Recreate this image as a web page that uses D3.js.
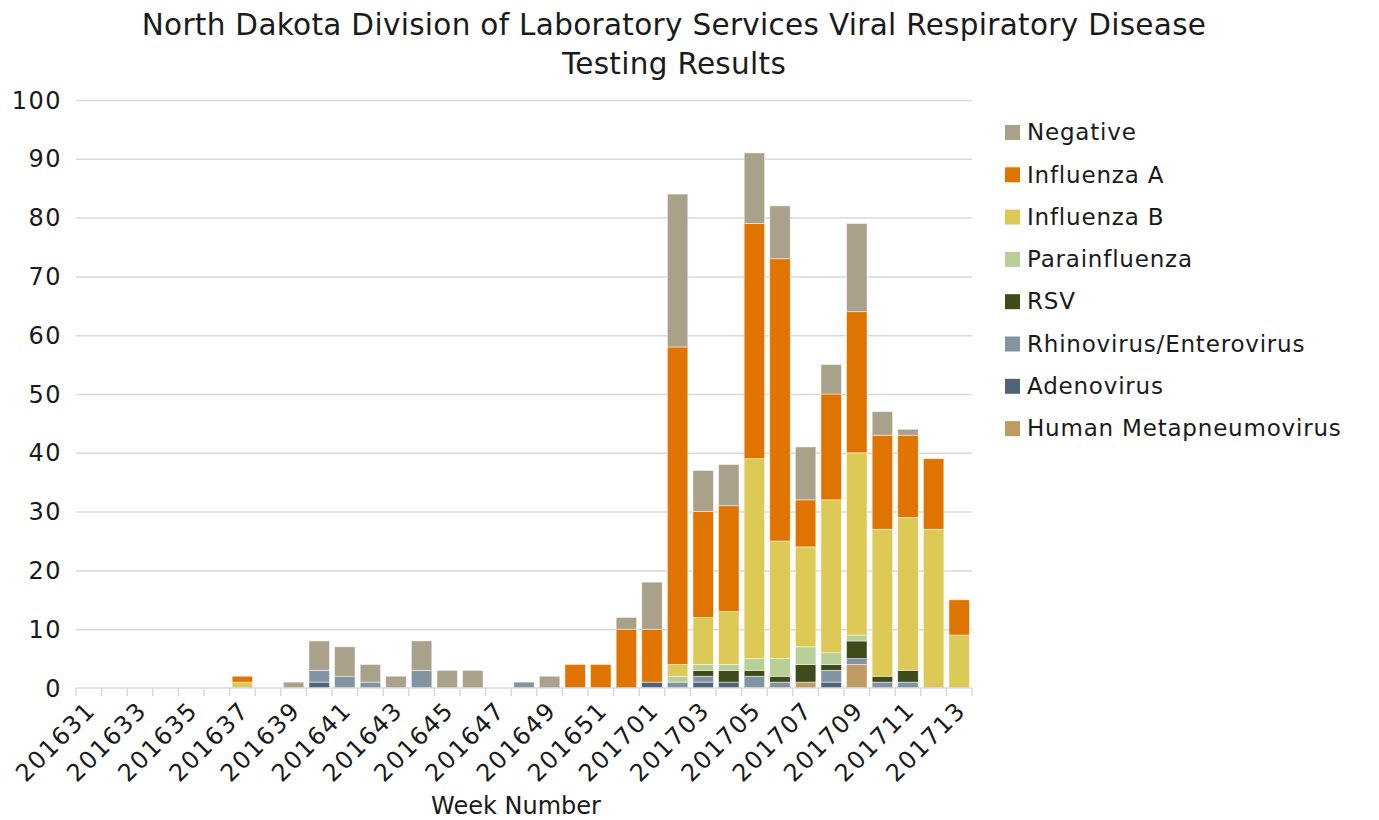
<!DOCTYPE html>
<html>
<head>
<meta charset="utf-8">
<script src="https://cdn.jsdelivr.net/npm/d3@7"></script>
<style>
  body { margin: 0; background: #fff; }
  svg text { font-family: 'DejaVu Sans', 'Noto Sans', sans-serif; fill: #1a1a1a; }
  .grid line { stroke: #d9d9d9; stroke-width: 1.5; }
  .grid path { display: none; }
</style>
</head>
<body>
<svg width="1379" height="820"></svg>
<script>
// week numbers
const weeks = [
  '201631','201632','201633','201634','201635','201636','201637','201638','201639','201640',
  '201641','201642','201643','201644','201645','201646','201647','201648','201649','201650',
  '201651','201652','201701','201702','201703','201704','201705','201706','201707','201708',
  '201709','201710','201711','201712','201713'
];

// series, bottom of stack first
const seriesNames = ['Human Metapneumovirus', 'Adenovirus', 'Rhinovirus/Enterovirus', 'RSV',
  'Parainfluenza', 'Influenza B', 'Influenza A', 'Negative'];
const seriesColors = ['#bf9b63', '#4f6478', '#8294a4', '#3d4c1a',
  '#b8cf96', '#ddc955', '#e07400', '#a9a18a'];

const hmpv     = [0,0,0,0,0,0,0,0,0,0, 0,0,0,0,0,0,0,0,0,0, 0,0,0,0,0,0,0,0,1,0, 4,0,0,0,0];
const adeno    = [0,0,0,0,0,0,0,0,0,1, 0,0,0,0,0,0,0,0,0,0, 0,0,1,0,1,1,0,0,0,1, 0,0,0,0,0];
const rhino    = [0,0,0,0,0,0,0,0,0,2, 2,1,0,3,0,0,0,1,0,0, 0,0,0,1,1,0,2,1,0,2, 1,1,1,0,0];
const rsv      = [0,0,0,0,0,0,0,0,0,0, 0,0,0,0,0,0,0,0,0,0, 0,0,0,0,1,2,1,1,3,1, 3,1,2,0,0];
const para     = [0,0,0,0,0,0,0,0,0,0, 0,0,0,0,0,0,0,0,0,0, 0,0,0,1,1,1,2,3,3,2, 1,0,0,0,0];
const fluB     = [0,0,0,0,0,0,1,0,0,0, 0,0,0,0,0,0,0,0,0,0, 0,0,0,2,8,9,34,20,17,26, 31,25,26,27,9];
const fluA     = [0,0,0,0,0,0,1,0,0,0, 0,0,0,0,0,0,0,0,0,4, 4,10,9,54,18,18,40,48,8,18, 24,16,14,12,6];
const negative = [0,0,0,0,0,0,0,0,1,5, 5,3,2,5,3,3,0,0,2,0, 0,2,8,26,7,7,12,9,9,5, 15,4,1,0,0];
const seriesValues = [hmpv, adeno, rhino, rsv, para, fluB, fluA, negative];

const yTicks = [0,10,20,30,40,50,60,70,80,90,100];
const legendOrder = ['Negative', 'Influenza A', 'Influenza B', 'Parainfluenza', 'RSV',
  'Rhinovirus/Enterovirus', 'Adenovirus', 'Human Metapneumovirus'];

const svg = d3.select('svg');
const plotLeft = 76, plotRight = 972, plotTop = 100, plotBottom = 688;

const table = weeks.map((w, i) => {
  const row = { week: w };
  seriesNames.forEach((s, j) => { row[s] = seriesValues[j][i]; });
  return row;
});

const xScale = d3.scaleBand().domain(weeks).range([plotLeft, plotRight]).paddingInner(0.2).paddingOuter(0.1);
const yScale = d3.scaleLinear().domain([0, 100]).range([plotBottom, plotTop]);
const color = d3.scaleOrdinal().domain(seriesNames).range(seriesColors);

// gridlines
svg.append('g')
  .attr('class', 'grid')
  .attr('transform', `translate(${plotLeft}, 0)`)
  .call(d3.axisLeft(yScale).tickValues(yTicks.slice(1)).tickSize(-(plotRight - plotLeft)).tickFormat(''));

// y labels
svg.append('g')
  .selectAll('text')
  .data(yTicks)
  .enter()
  .append('text')
  .attr('x', 62)
  .attr('y', d => yScale(d))
  .attr('dy', '0.36em')
  .attr('text-anchor', 'end')
  .style('font-size', '24px')
  .style('letter-spacing', '1.5px')
  .text(d => d);

// bars
const stack = d3.stack().keys(seriesNames)(table);
svg.append('g')
  .selectAll('g')
  .data(stack)
  .enter()
  .append('g')
  .attr('fill', d => color(d.key))
  .selectAll('rect')
  .data(d => d.filter(p => p[1] - p[0] > 0))
  .enter()
  .append('rect')
  .attr('x', d => xScale(d.data.week))
  .attr('y', d => yScale(d[1]))
  .attr('height', d => yScale(d[0]) - yScale(d[1]))
  .attr('width', xScale.bandwidth())
  .attr('stroke', '#ffffff')
  .attr('stroke-opacity', 0.6)
  .attr('stroke-width', 0.8);

// x axis line and ticks at category boundaries
const step = (plotRight - plotLeft) / weeks.length;
const xAxis = svg.append('g');
xAxis.append('line')
  .attr('x1', plotLeft).attr('x2', plotRight)
  .attr('y1', plotBottom).attr('y2', plotBottom)
  .attr('stroke', '#d9d9d9').attr('stroke-width', 1.5);
xAxis.selectAll('.tick')
  .data(d3.range(weeks.length + 1))
  .enter()
  .append('line')
  .attr('x1', i => plotLeft + i * step).attr('x2', i => plotLeft + i * step)
  .attr('y1', plotBottom).attr('y2', plotBottom + 8)
  .attr('stroke', '#d9d9d9').attr('stroke-width', 1.5);

xAxis.selectAll('.label')
  .data(weeks.filter((w, i) => i % 2 === 0))
  .enter()
  .append('text')
  .attr('text-anchor', 'end')
  .attr('transform', d => `translate(${xScale(d) + xScale.bandwidth() / 2 + 8}, 712) rotate(-45)`)
  .style('font-size', '24px')
  .style('letter-spacing', '1.5px')
  .text(d => d);

// axis title
svg.append('text')
  .attr('x', 516)
  .attr('y', 814)
  .attr('text-anchor', 'middle')
  .style('font-size', '24px')
  .text('Week Number');

// title
svg.append('text')
  .attr('x', 674)
  .attr('y', 35)
  .attr('text-anchor', 'middle')
  .style('font-size', '29.5px')
  .style('letter-spacing', '0.3px')
  .text('North Dakota Division of Laboratory Services Viral Respiratory Disease');
svg.append('text')
  .attr('x', 674)
  .attr('y', 74)
  .attr('text-anchor', 'middle')
  .style('font-size', '29.5px')
  .style('letter-spacing', '0.3px')
  .text('Testing Results');

// legend
const legend = svg.append('g')
  .selectAll('g')
  .data(legendOrder)
  .enter()
  .append('g')
  .attr('transform', (d, i) => `translate(1005, ${132 + i * 42.3})`);
legend.append('rect')
  .attr('x', 0).attr('y', -7)
  .attr('width', 15).attr('height', 15)
  .attr('fill', d => color(d));
legend.append('text')
  .attr('x', 22)
  .attr('dy', '0.36em')
  .style('font-size', '23px')
  .style('letter-spacing', '0.8px')
  .text(d => d);
</script>
</body>
</html>
